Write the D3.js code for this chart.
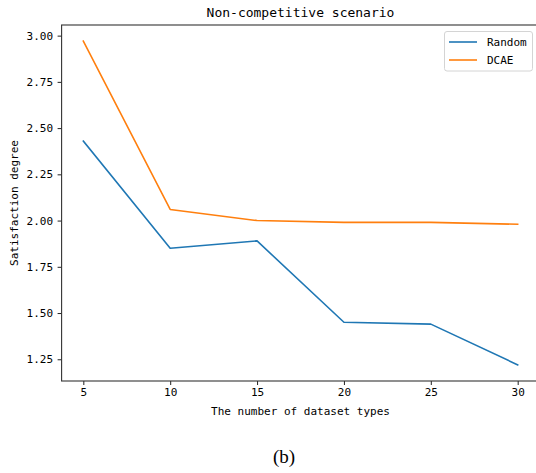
<!DOCTYPE html>
<html>
<head>
<meta charset="utf-8">
<script src="https://cdn.jsdelivr.net/npm/d3@7"></script>
<style>
  html, body { margin: 0; padding: 0; background: #fff; }
  svg { display: block; }
  text { font-family: "DejaVu Sans Mono", "Liberation Mono", monospace; fill: #000; }
</style>
</head>
<body>
<svg id="chart" width="536" height="473"></svg>
<script>
const xValues = [5, 10, 15, 20, 25, 30];
const randomValues = [2.43, 1.85, 1.89, 1.45, 1.44, 1.22];
const dcaeValues = [2.97, 2.06, 2.00, 1.99, 1.99, 1.98];
const seriesNames = ["Random", "DCAE"];
const seriesColors = ["#1f77b4", "#ff7f0e"];
const xTicks = [5, 10, 15, 20, 25, 30];
const yTicks = [1.25, 1.50, 1.75, 2.00, 2.25, 2.50, 2.75, 3.00];
const titleText = "Non-competitive scenario";
const xLabel = "The number of dataset types";
const yLabel = "Satisfaction degree";
const captionText = "(b)";

const svg = d3.select("#chart");
const plot = { left: 61.6, right: 539.4, top: 25, bottom: 381 };

const xMin = d3.min(xValues), xMax = d3.max(xValues);
const xPad = (xMax - xMin) * 0.05;
const allY = randomValues.concat(dcaeValues);
const yMin = d3.min(allY), yMax = d3.max(allY);
const yPad = (yMax - yMin) * 0.05;

const x = d3.scaleLinear().domain([xMin - xPad, xMax + xPad]).range([plot.left, plot.right]);
const y = d3.scaleLinear().domain([yMin - yPad, yMax + yPad]).range([plot.bottom, plot.top]);

// axes
const xAxis = d3.axisBottom(x).tickValues(xTicks).tickSize(4).tickPadding(3.5).tickFormat(d3.format("d"));
const yAxis = d3.axisLeft(y).tickValues(yTicks).tickSize(4).tickPadding(4.5).tickFormat(d3.format(".2f"));

const gx = svg.append("g").attr("transform", `translate(0,${plot.bottom})`).call(xAxis);
const gy = svg.append("g").attr("transform", `translate(${plot.left},0)`).call(yAxis);
[gx, gy].forEach(g => {
  g.select(".domain").remove();
  g.selectAll(".tick line").attr("stroke", "#222").attr("stroke-width", 1);
  g.selectAll(".tick text").attr("font-size", 11).attr("font-family", "DejaVu Sans Mono").attr("fill", "#111");
});

// lines
const line = d3.line().x((d, i) => x(xValues[i])).y(d => y(d));
[randomValues, dcaeValues].forEach((vals, k) => {
  svg.append("path").datum(vals)
    .attr("d", line)
    .attr("fill", "none")
    .attr("stroke", seriesColors[k])
    .attr("stroke-width", 1.6)
    .attr("stroke-linejoin", "round")
    .attr("stroke-linecap", "square");
});

// spines
svg.append("rect")
  .attr("x", plot.left).attr("y", plot.top)
  .attr("width", plot.right - plot.left).attr("height", plot.bottom - plot.top)
  .attr("fill", "none").attr("stroke", "#333").attr("stroke-width", 1.1);

// title
svg.append("text").attr("x", (plot.left + plot.right) / 2).attr("y", 17)
  .attr("text-anchor", "middle").attr("font-size", 13).text(titleText);

// x label
svg.append("text").attr("x", (plot.left + plot.right) / 2).attr("y", 415)
  .attr("text-anchor", "middle").attr("font-size", 11).text(xLabel);

// y label
svg.append("text")
  .attr("transform", `translate(18,${(plot.top + plot.bottom) / 2}) rotate(-90)`)
  .attr("text-anchor", "middle").attr("font-size", 11).text(yLabel);

// legend
const lg = svg.append("g");
lg.append("rect").attr("x", 444.5).attr("y", 31.5).attr("width", 88).attr("height", 39.5)
  .attr("rx", 2.5).attr("fill", "#fff").attr("fill-opacity", 0.8)
  .attr("stroke", "#d4d4d4").attr("stroke-width", 1);
seriesNames.forEach((name, i) => {
  const cy = 42 + i * 18;
  lg.append("line").attr("x1", 449).attr("x2", 477).attr("y1", cy).attr("y2", cy)
    .attr("stroke", seriesColors[i]).attr("stroke-width", 1.6);
  lg.append("text").attr("x", 487).attr("y", cy + 4).attr("font-size", 11).text(name);
});

// caption
svg.append("text").attr("x", 284).attr("y", 463).attr("text-anchor", "middle")
  .attr("font-family", "Liberation Serif").style("font-family", "'Liberation Serif', serif")
  .attr("font-size", 19).text(captionText);
</script>
</body>
</html>
